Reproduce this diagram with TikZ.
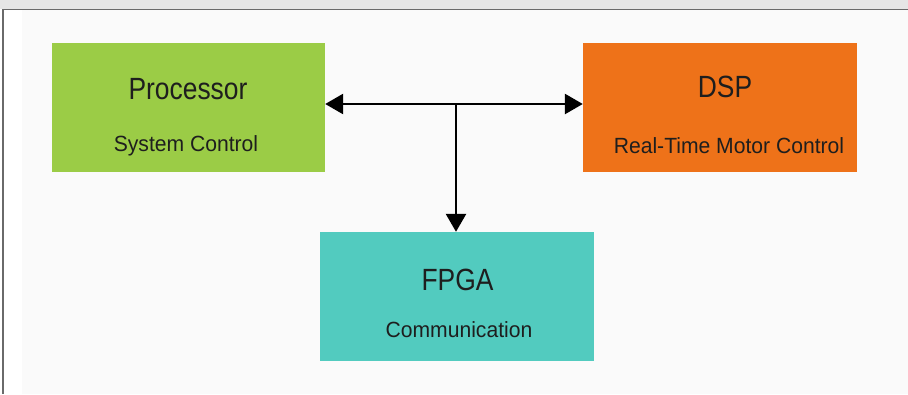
\documentclass[tikz,border=0pt]{standalone}
\usepackage{fontspec}
\setmainfont{Liberation Sans}
\newfontfamily\titlefont[FakeStretch=0.86]{Liberation Sans}
\newfontfamily\subfont[FakeStretch=0.96]{Liberation Sans}
\usetikzlibrary{arrows.meta}
\definecolor{procgreen}{HTML}{9BCC46}
\definecolor{dsporange}{HTML}{EE7219}
\definecolor{fpgateal}{HTML}{52CBBF}
\definecolor{bgpanel}{HTML}{FAFAFA}
\definecolor{framegray}{HTML}{6A6A6A}
\definecolor{shadowgray}{HTML}{E6E6E6}
\definecolor{txt}{HTML}{1E1E1E}
\begin{document}
\begin{tikzpicture}[x=1pt,y=-1pt,
  block/.style={rectangle, inner sep=0pt, minimum width=274pt, minimum height=129pt, draw=none},
  titletext/.style={anchor=base, inner sep=0pt, text=txt, font=\titlefont\fontsize{30.7}{32}\selectfont},
  subtext/.style={anchor=base, inner sep=0pt, text=txt, font=\subfont\fontsize{22}{24}\selectfont},
  link/.style={line width=2.7pt, draw=black, {Triangle[length=18pt,width=20pt]}-{Triangle[length=18pt,width=20pt]}},
  downlink/.style={line width=2.7pt, draw=black, -{Triangle[length=18pt,width=20pt]}}
]
\useasboundingbox (0,0) rectangle (908,394);
% background
\fill[white] (0,0) rectangle (908,394);
\fill[shadowgray] (0,0) rectangle (908,9);
\fill[bgpanel] (22,10) rectangle (908,394);
\draw[framegray, line width=1.2pt] (3,394) -- (3,9.5) -- (908,9.5);
% blocks
\node[block, fill=procgreen, minimum width=273pt] (proc) at (188.5,107.5) {};
\node[block, fill=dsporange] (dsp) at (720,107.5) {};
\node[block, fill=fpgateal] (fpga) at (457,296.5) {};
% texts
\node[titletext] (proct) at (188,99) {Processor};
\node[subtext] (procs) at (186,151) {System Control};
\node[titletext] (dspt) at (725,97) {DSP};
\node[subtext] (dsps) at (729,153) {Real-Time Motor Control};
\node[titletext] (fpgat) at (457.5,290) {FPGA};
\node[subtext] (fpgas) at (459,337) {Communication};
% connectors
\coordinate (j) at (456,104);
\draw[link] (proc.east |- j) -- (dsp.west |- j);
\draw[downlink] (j) -- (fpga.north -| j);
\end{tikzpicture}
\end{document}
